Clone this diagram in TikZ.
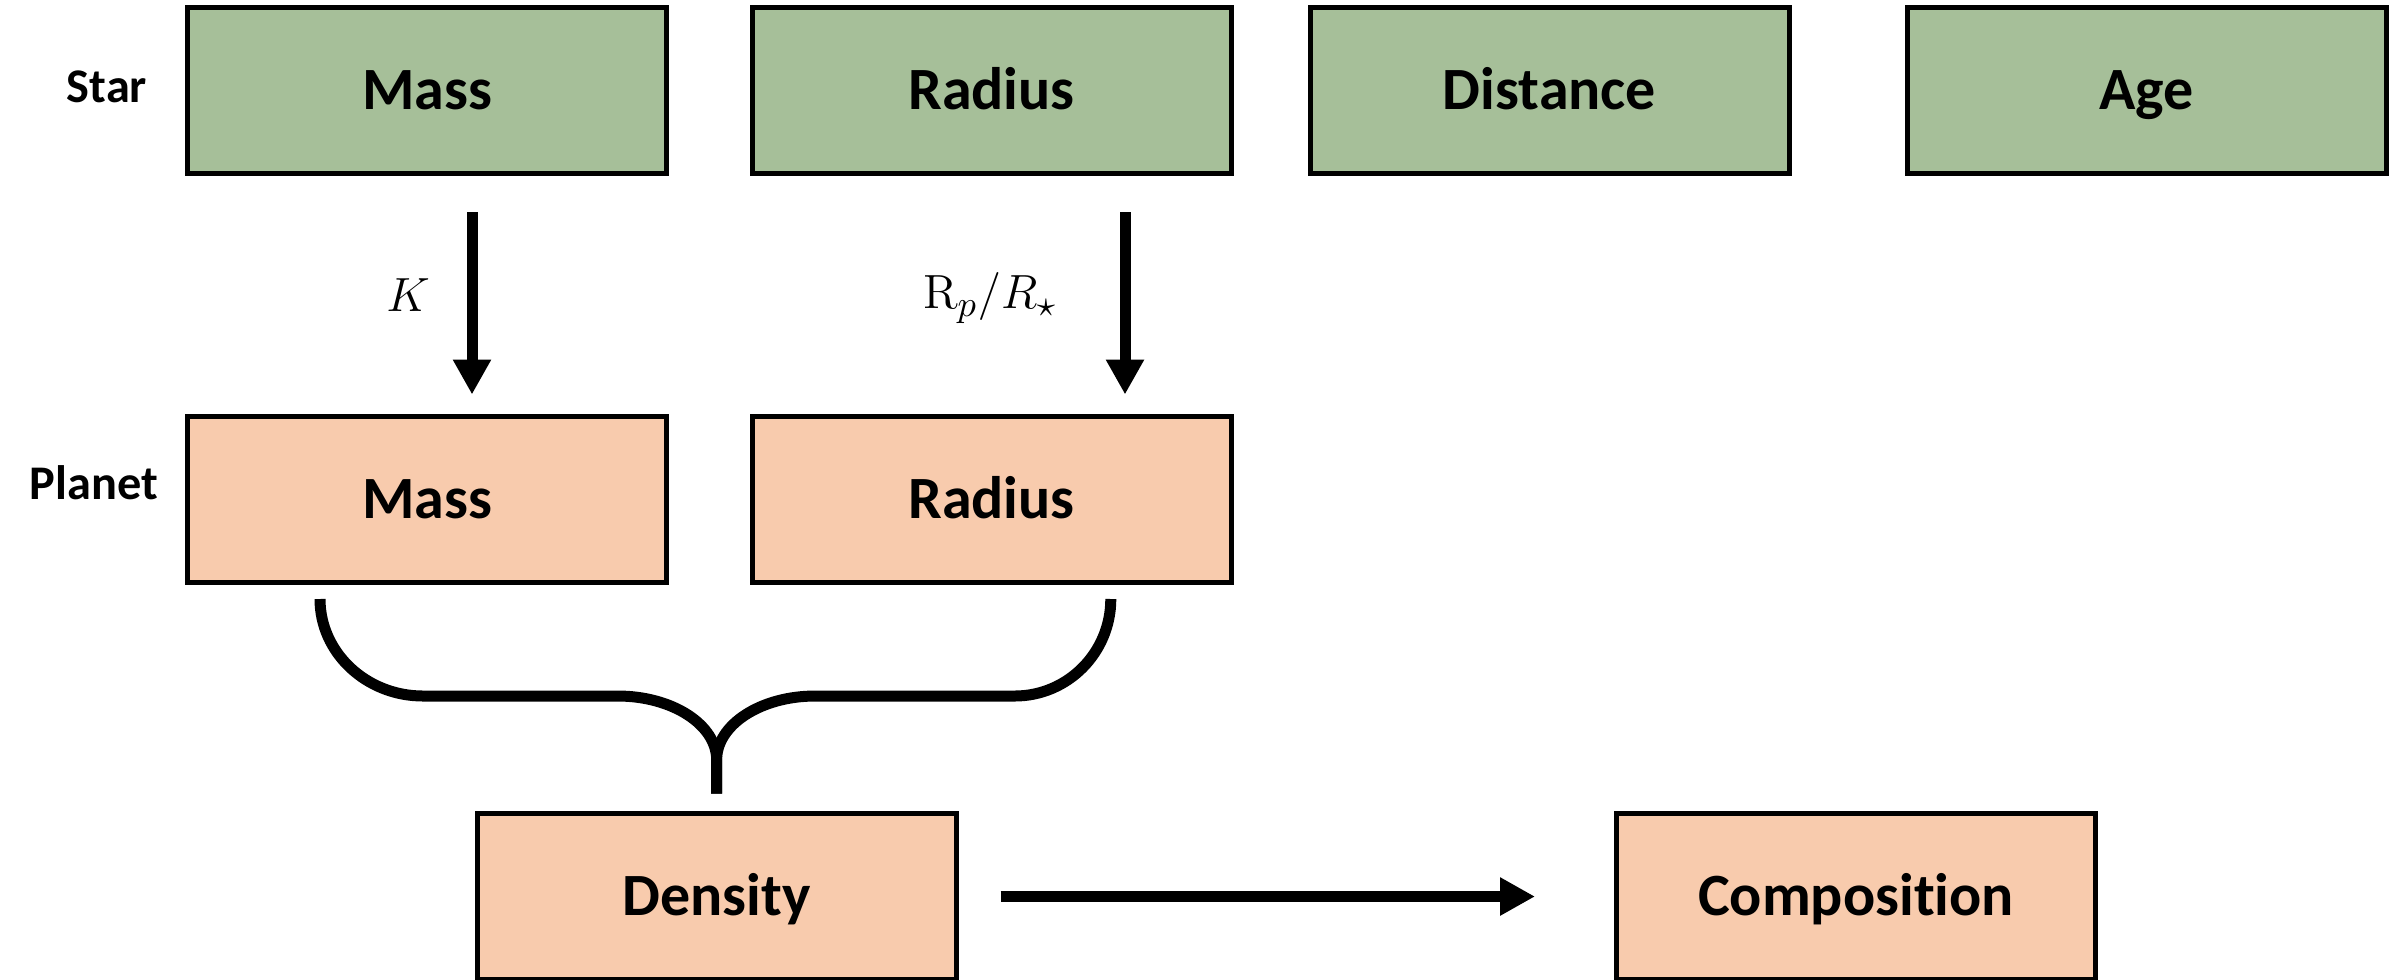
\documentclass[tikz,border=0pt]{standalone}
\usepackage[no-math]{fontspec}
\setmainfont{Carlito}[Ligatures={NoCommon}]
\usetikzlibrary{arrows.meta,calc}
\definecolor{stargreen}{RGB}{166,191,153}
\definecolor{planetpeach}{RGB}{248,203,173}
\begin{document}
\begin{tikzpicture}[x=0.3pt,y=-0.3pt,
  box/.style={draw=black, line width=1.5pt, minimum width=143.7pt, minimum height=49.8pt,
    inner sep=0pt, text height=11.6pt, text depth=0pt, font=\fontsize{18}{21}\selectfont\bfseries},
  starbox/.style={box, fill=stargreen},
  planetbox/.style={box, fill=planetpeach},
  rowlabel/.style={font=\fontsize{14.5}{17}\selectfont\bfseries},
  bigarrow/.style={line width=3.3pt, -{Triangle[width=10.8pt,length=10.5pt]}},
  brace/.style={line width=3.3pt}]
\useasboundingbox (0,0) rectangle (2399,979);
% star row
\node[starbox] (sMass) at (427,90.5) {Mass};
\node[starbox] (sRad) at (991.5,90.5) {Radius};
\node[starbox] (sDist) at (1549.5,90.5) {Distance};
\node[starbox] (sAge) at (2146.5,90.5) {Age};
% planet row
\node[planetbox] (pMass) at (427,499) {Mass};
\node[planetbox] (pRad) at (991.5,499) {Radius};
\node[planetbox] (dens) at (716.6,896.5) {Density};
\node[planetbox] (comp) at (1856,896.5) {Composition};
% row labels
\node[rowlabel] (lstar) at (107,87) {Star};
\node[rowlabel] (lplanet) at (94,483) {Planet};
% arrows
\draw[bigarrow] ($(sMass.south)+(45,36)$) -- ($(pMass.north)+(45,-19)$);
\draw[bigarrow] ($(sRad.south)+(133.5,36)$) -- ($(pRad.north)+(133.5,-19)$);
\node (lK) at (408,295) {\fontsize{14}{16}\selectfont $K$};
\node (lR) at (990,298) {\fontsize{15}{17}\selectfont $\mathrm{R}_p/R_\star$};
\draw[bigarrow] ($(dens.east)+(42,0)$) -- ($(comp.west)+(-79,0)$);
% brace
\coordinate (bl) at ($(pMass.south)+(-107,14.5)$);
\coordinate (br) at ($(pRad.south)+(119.3,14.5)$);
\coordinate (bm) at ($(dens.north)+(0,-17.5)$);
\draw[brace] (bl) .. controls +(0,53.5) and +(-56.9,0) .. ++(103,97) -- ++(194.7,0)
  .. controls +(54.6,0) and +(0,-35.3) .. ++(99,64) -- (bm);
\draw[brace] (br) .. controls +(0,53.5) and +(53,0) .. ++(-96,97) -- ++(-199.5,0)
  .. controls +(-54.6,0) and +(0,-35.3) .. ++(-98.7,64) -- (bm);
\end{tikzpicture}
\end{document}
